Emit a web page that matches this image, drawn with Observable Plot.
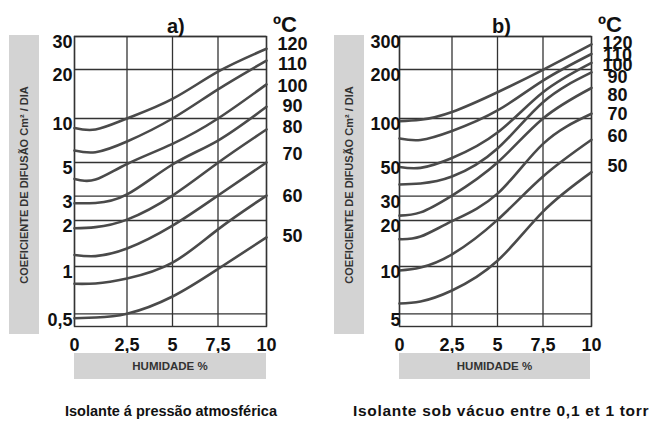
<!DOCTYPE html>
<html>
<head>
<meta charset="utf-8">
<script src="https://cdn.jsdelivr.net/npm/d3@7"></script>
<script src="https://cdn.jsdelivr.net/npm/@observablehq/plot@0.6"></script>
<style>
  html, body { margin: 0; padding: 0; background: #fff; }
  #wrap { position: relative; width: 651px; height: 428px; overflow: hidden; background: #fff;
          font-family: "Liberation Sans", Arial, sans-serif; font-weight: bold; color: #111; }
  .panel { position: absolute; top: 0; }
  .box { position: absolute; background: #d3d3d3; }
  .ytitle { position: absolute; left: 50%; top: 50%; transform: translate(-50%, -50%) rotate(-90deg);
            white-space: nowrap; font-size: 11px; color: #333; }
  .xtitle { position: absolute; left: 0; right: 0; top: 0; bottom: 0; display: flex; align-items: center;
            justify-content: center; font-size: 11.5px; color: #333; }
  .lbl { position: absolute; white-space: nowrap; line-height: 1; }
</style>
</head>
<body>
<div id="wrap"></div>
<script>
// ---- data ----
const humidity = [0, 1, 2.5, 5, 7.5, 10];          // HUMIDADE %
const temps = [120, 110, 100, 90, 80, 70, 60, 50];  // ºC
const xTicks = [0, 2.5, 5, 7.5, 10];

// a) Isolante á pressão atmosférica — coefficient (cm²/dia)
const a120 = [8.6, 8.4, 10.0, 13.2, 19.4, 25.8];
const a110 = [6.04, 5.88, 6.96, 10.0, 15.1, 22.3];
const a100 = [3.9, 3.86, 4.89, 6.71, 10.0, 16.2];
const a90  = [2.67, 2.68, 3.08, 4.85, 7.07, 11.8];
const a80  = [1.78, 1.81, 2.03, 3.03, 4.98, 8.41];
const a70  = [1.19, 1.17, 1.31, 1.85, 3.03, 5.0];
const a60  = [0.776, 0.78, 0.839, 1.06, 1.75, 3.03];
const a50  = [0.467, 0.472, 0.5, 0.644, 0.964, 1.55];
const aTicks = [0.5, 1, 2, 3, 5, 10, 20, 30];
const aLabelPos = [27.4, 21.3, 15.7, 11.9, 8.7, 5.7, 3.0, 1.58];

// b) Isolante sob vácuo entre 0,1 et 1 torr
const b120 = [96, 98, 109.7, 145, 199, 272];
const b110 = [73, 71.3, 82.1, 112, 171, 242];
const b100 = [46.7, 46.1, 53.7, 80.2, 145, 217];
const b90  = [35.8, 36.4, 40.4, 62.3, 126, 192];
const b80  = [21.7, 22.9, 30.3, 50, 100, 154];
const b70  = [15.1, 15.7, 19.8, 31.2, 67.1, 107];
const b60  = [9.43, 9.85, 12.0, 20.2, 40.4, 71.5];
const b50  = [5.82, 5.99, 7.04, 10.9, 23.2, 43.2];
const bTicks = [5, 10, 20, 30, 50, 100, 200, 300];
const bLabelPos = [275, 239, 210, 179, 138, 106, 75.9, 47];

const seriesA = [a120, a110, a100, a90, a80, a70, a60, a50];
const seriesB = [b120, b110, b100, b90, b80, b70, b60, b50];

const comma = d => String(d).replace(".", ",");

// the printed grid is hand-drawn and not perfectly even: piecewise scales follow it
const xRange = [74, 126.5, 172, 217.5, 266];
const yRange = [326, 313.3, 266, 220, 195.7, 162, 118, 69, 36];

function panel(series, yTicks, yMin, labelPos, labelDx) {
  const rows = [];
  series.forEach((vals, k) => humidity.forEach((h, i) => rows.push({t: temps[k], h, v: vals[i]})));
  const labels = temps.map((t, k) => ({t: String(t), pos: labelPos[k]}));
  return Plot.plot({
    width: 330, height: 360,
    marginLeft: 74, marginRight: 64, marginTop: 36, marginBottom: 34,
    style: {fontFamily: '"Liberation Sans", Arial, sans-serif', fontWeight: "bold", fontSize: "18px",
            color: "#111", background: "transparent", overflow: "visible"},
    x: {type: "linear", domain: xTicks, range: xRange, label: null, axis: null},
    y: {type: "log", domain: [yMin, ...yTicks], range: yRange, label: null, axis: null},
    marks: [
      Plot.gridX(xTicks, {stroke: "#333", strokeOpacity: 1, strokeWidth: 1.3}),
      Plot.gridY(yTicks, {stroke: "#333", strokeOpacity: 1, strokeWidth: 1.3}),
      Plot.frame({stroke: "#333", strokeWidth: 1.4}),
      Plot.line(rows, {x: "h", y: "v", z: "t", curve: "natural", stroke: "#4a4a4a", strokeWidth: 2.6}),
      Plot.text(xTicks, {x: d => d, text: comma, frameAnchor: "bottom", lineAnchor: "top",
                         dy: 12, fill: "#111"}),
      Plot.text(yTicks, {y: d => d, text: comma, frameAnchor: "left", textAnchor: "end",
                         dx: labelDx, dy: 6, fill: "#111"}),
      Plot.text(labels, {x: 10, y: "pos", text: "t", dx: 26, textAnchor: "middle", fill: "#111"})
    ]
  });
}

const wrap = document.getElementById("wrap");
function add(el, left) { el.classList.add("panel"); el.style.left = left + "px"; wrap.appendChild(el); }
add(panel(seriesA, aTicks, 0.411, aLabelPos, -2), 0);
add(panel(seriesB, bTicks, 4.11, bLabelPos, 1), 325);

function box(left, top, w, h, cls, text) {
  const d = document.createElement("div");
  d.className = "box";
  Object.assign(d.style, {left: left + "px", top: top + "px", width: w + "px", height: h + "px"});
  const s = document.createElement("div");
  s.className = cls; s.textContent = text;
  d.appendChild(s); wrap.appendChild(d);
}
function label(left, top, size, text, spacing) {
  const d = document.createElement("div");
  d.className = "lbl"; d.textContent = text;
  Object.assign(d.style, {left: left + "px", top: top + "px", fontSize: size + "px"});
  if (spacing) d.style.letterSpacing = spacing + "px";
  wrap.appendChild(d);
  return d;
}
const ytitle = "COEFICIENTE DE DIFUSÃO Cm² / DIA";
box(9, 35, 30, 299, "ytitle", ytitle);
box(334, 35, 30, 299, "ytitle", ytitle);
box(74, 353, 192, 26, "xtitle", "HUMIDADE %");
box(399, 353, 191, 26, "xtitle", "HUMIDADE %");

label(167, 16, 20, "a)");
label(492, 16, 20, "b)");
label(273, 14, 22, "ºC");
label(598, 14, 22, "ºC");
label(65, 404, 14.5, "Isolante á pressão atmosférica");
label(353, 403, 15.5, "Isolante sob vácuo entre 0,1 et 1 torr", 0.7);
</script>
</body>
</html>
